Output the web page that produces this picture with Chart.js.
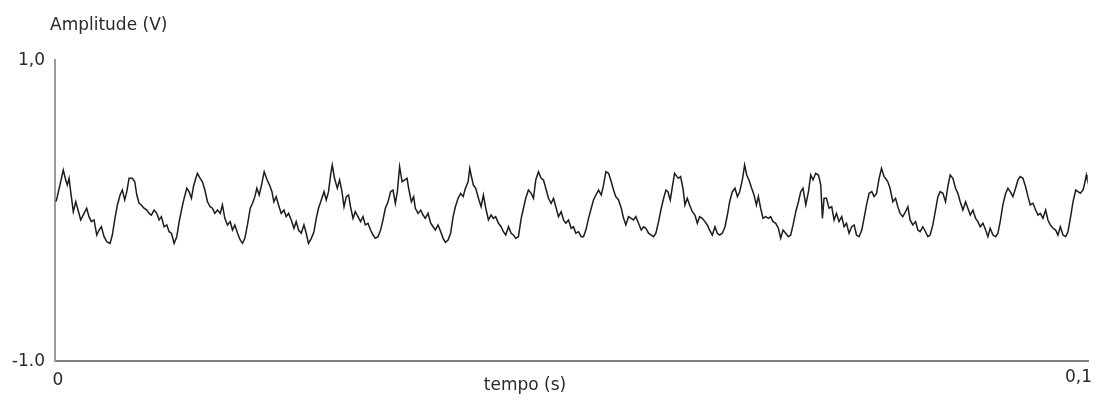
<!DOCTYPE html>
<html lang="pt">
<head>
  <meta charset="UTF-8" />
  <title>Amplitude x tempo</title>
  <script src="https://cdn.jsdelivr.net/npm/chart.js"></script>
  <style>
    body { margin: 0; background: #fff; }
    canvas { display: block; }
  </style>
</head>
<body>
  <canvas id="sinal" width="1097" height="403"></canvas>

  <script>
    // tempo em ms (convertido para s no grafico)
    const tempoMs = [
      0.10, 0.22, 0.55, 0.80, 1.04, 1.19, 1.36, 1.52, 1.77, 2.01,
      2.23, 2.49, 2.81, 3.07, 3.29, 3.52, 3.78, 4.04, 4.26, 4.49,
      4.75, 5.01, 5.33, 5.55, 5.78, 6.04, 6.30, 6.52, 6.75, 6.95,
      7.17, 7.49, 7.72, 7.92, 8.14, 8.36, 8.62, 8.89, 9.11, 9.33,
      9.59, 9.85, 10.08, 10.30, 10.56, 10.82, 11.05, 11.27, 11.53, 11.79,
      12.02, 12.28, 12.50, 12.76, 12.98, 13.21, 13.40, 13.63, 13.79, 14.05,
      14.27, 14.51, 14.76, 15.02, 15.24, 15.47, 15.73, 15.99, 16.21, 16.44,
      16.70, 16.96, 17.18, 17.41, 17.67, 17.93, 18.15, 18.38, 18.63, 18.90,
      19.12, 19.35, 19.54, 19.77, 19.99, 20.25,
      20.54, 20.77, 21.00, 21.19, 21.41, 21.64, 21.90, 22.16, 22.38, 22.61,
      22.87, 23.13, 23.35, 23.58, 23.84, 24.10, 24.32, 24.54, 24.81, 25.07,
      25.29, 25.51, 25.78, 26.04, 26.26, 26.48, 26.68, 26.84, 27.06, 27.33,
      27.55, 27.78, 27.98, 28.20, 28.42, 28.61, 28.85, 29.07, 29.33, 29.58,
      29.82, 30.04, 30.30, 30.55, 30.79, 31.01, 31.27, 31.52, 31.75, 31.98,
      32.24, 32.49, 32.72, 32.95, 33.14, 33.36, 33.60, 33.85, 34.08, 34.23,
      34.50, 34.72, 34.88, 35.15, 35.40, 35.63, 35.85, 36.11, 36.37, 36.60,
      36.82, 37.08, 37.34, 37.57, 37.79, 38.05, 38.30, 38.54, 38.76, 39.02,
      39.27, 39.51, 39.73, 39.99, 40.15,
      40.28, 40.50, 40.73, 40.99, 41.25, 41.47, 41.70, 41.96, 42.22, 42.44,
      42.66, 42.93, 43.19, 43.41, 43.63, 43.90, 44.16, 44.38, 44.60, 44.86,
      45.13, 45.35, 45.57, 45.83, 46.10, 46.32, 46.54, 46.80, 47.06, 47.29,
      47.51, 47.77, 48.03, 48.26, 48.48, 48.74, 49.00, 49.23, 49.45, 49.71,
      49.97, 50.19, 50.42, 50.68, 50.94, 51.16, 51.39, 51.65, 51.91, 52.13,
      52.36, 52.62, 52.88, 53.10, 53.33, 53.59, 53.85, 54.07, 54.29, 54.55,
      54.82, 55.04, 55.26, 55.52, 55.78, 56.01, 56.23, 56.49, 56.75, 56.98,
      57.20, 57.46, 57.72, 57.95, 58.17, 58.43, 58.69, 58.92, 59.14, 59.33,
      59.56, 59.79, 59.98, 60.21,
      60.34, 60.56, 60.79, 60.98, 61.21, 61.43, 61.70, 61.95, 62.18, 62.40,
      62.66, 62.92, 63.15, 63.37, 63.63, 63.89, 64.12, 64.34, 64.60, 64.86,
      65.09, 65.31, 65.57, 65.83, 66.06, 66.28, 66.54, 66.76, 66.96, 67.18,
      67.44, 67.67, 67.90, 68.09, 68.31, 68.54, 68.80, 69.06, 69.28, 69.51,
      69.77, 70.03, 70.25, 70.48, 70.74, 71.00, 71.22, 71.45, 71.71, 71.97,
      72.19, 72.41, 72.68, 72.94, 73.16, 73.38, 73.64, 73.91, 74.13, 74.29,
      74.45, 74.68, 74.93, 75.19, 75.42, 75.65, 75.90, 76.16, 76.39, 76.62,
      76.87, 77.13, 77.36, 77.59, 77.84, 78.10, 78.32, 78.56, 78.81, 79.07,
      79.29, 79.53, 79.78, 80.01, 80.26,
      80.40, 80.62, 80.84, 81.11, 81.37, 81.59, 81.81, 82.07, 82.34, 82.56,
      82.78, 83.04, 83.31, 83.53, 83.75, 84.01, 84.27, 84.50, 84.72, 84.98,
      85.24, 85.47, 85.69, 85.95, 86.21, 86.43, 86.66, 86.92, 87.18, 87.40,
      87.63, 87.89, 88.15, 88.37, 88.60, 88.86, 89.12, 89.34, 89.57, 89.83,
      90.09, 90.31, 90.53, 90.80, 91.06, 91.28, 91.50, 91.76, 92.03, 92.25,
      92.47, 92.73, 92.99, 93.22, 93.44, 93.70, 93.96, 94.19, 94.41, 94.67,
      94.93, 95.16, 95.38, 95.64, 95.90, 96.12, 96.35, 96.61, 96.87, 97.09,
      97.32, 97.58, 97.84, 98.06, 98.29, 98.55, 98.81, 99.03, 99.26, 99.52,
      99.68, 99.84, 99.90
    ];

    // amplitude em V
    const amplitudeV = [
      0.060, 0.092, 0.191, 0.269, 0.203, 0.169, 0.214, 0.125, -0.008, 0.058,
      0.003, -0.063, -0.019, 0.015, -0.041, -0.074, -0.063, -0.163, -0.130, -0.108,
      -0.174, -0.207, -0.218, -0.163, -0.063, 0.037, 0.103, 0.136, 0.070, 0.125,
      0.214, 0.214, 0.191, 0.103, 0.048, 0.037, 0.015, 0.003, -0.019, -0.030,
      0.003, -0.019, -0.063, -0.041, -0.108, -0.096, -0.141, -0.151, -0.218, -0.174,
      -0.074, 0.015, 0.081, 0.148, 0.125, 0.081, 0.158, 0.214, 0.247, 0.214,
      0.191, 0.136, 0.058, 0.025, 0.015, -0.019, 0.003, -0.019, 0.037, -0.052,
      -0.096, -0.074, -0.130, -0.096, -0.151, -0.196, -0.218, -0.185, -0.096, 0.015,
      0.048, 0.092, 0.148, 0.103, 0.169, 0.258,
      0.203, 0.169, 0.125, 0.058, 0.092, 0.037, -0.019, 0.003, -0.041, -0.019,
      -0.063, -0.118, -0.074, -0.130, -0.151, -0.096, -0.151, -0.218, -0.185, -0.141,
      -0.052, 0.015, 0.070, 0.125, 0.070, 0.125, 0.236, 0.302, 0.214, 0.148,
      0.203, 0.125, 0.025, 0.092, 0.103, 0.025, -0.052, -0.008, -0.041, -0.074,
      -0.041, -0.096, -0.085, -0.130, -0.163, -0.185, -0.174, -0.130, -0.063, 0.015,
      0.058, 0.125, 0.136, 0.048, 0.125, 0.291, 0.191, 0.203, 0.214, 0.148,
      0.058, 0.092, 0.015, -0.019, 0.003, -0.030, -0.052, -0.019, -0.085, -0.108,
      -0.130, -0.096, -0.141, -0.185, -0.211, -0.196, -0.151, -0.041, 0.025, 0.081,
      0.114, 0.092, 0.148, 0.191, 0.280,
      0.236, 0.169, 0.148, 0.081, 0.025, 0.103, 0.015, -0.063, -0.030, -0.052,
      -0.041, -0.085, -0.108, -0.141, -0.163, -0.108, -0.151, -0.163, -0.185, -0.174,
      -0.052, 0.015, 0.081, 0.136, 0.114, 0.081, 0.203, 0.258, 0.214, 0.203,
      0.148, 0.081, 0.048, 0.081, 0.025, -0.041, -0.008, -0.063, -0.085, -0.063,
      -0.118, -0.108, -0.151, -0.141, -0.174, -0.174, -0.130, -0.052, 0.015, 0.070,
      0.103, 0.136, 0.103, 0.169, 0.258, 0.247, 0.191, 0.136, 0.092, 0.070,
      0.015, -0.052, -0.096, -0.041, -0.052, -0.063, -0.041, -0.085, -0.130, -0.108,
      -0.118, -0.151, -0.163, -0.174, -0.151, -0.074, 0.015, 0.081, 0.136, 0.125,
      0.070, 0.169, 0.247, 0.225,
      0.214, 0.225, 0.148, 0.037, 0.081, 0.037, -0.008, -0.030, -0.085, -0.041,
      -0.052, -0.074, -0.096, -0.130, -0.163, -0.108, -0.151, -0.163, -0.151, -0.108,
      -0.030, 0.058, 0.125, 0.148, 0.092, 0.125, 0.203, 0.302, 0.236, 0.203,
      0.148, 0.103, 0.037, 0.092, 0.015, -0.052, -0.041, -0.052, -0.041, -0.074,
      -0.085, -0.118, -0.185, -0.130, -0.151, -0.174, -0.163, -0.096, -0.008, 0.058,
      0.125, 0.148, 0.037, 0.125, 0.236, 0.203, 0.247, 0.236, 0.169, -0.052,
      0.081, 0.081, 0.015, 0.025, -0.063, -0.019, -0.074, -0.041, -0.108, -0.085,
      -0.151, -0.108, -0.096, -0.163, -0.174, -0.130, -0.052, 0.037, 0.114, 0.125,
      0.092, 0.114, 0.214, 0.280, 0.225,
      0.214, 0.191, 0.148, 0.058, 0.081, 0.025, -0.019, -0.041, -0.008, 0.025,
      -0.063, -0.096, -0.074, -0.130, -0.141, -0.108, -0.141, -0.174, -0.163, -0.096,
      0.003, 0.092, 0.125, 0.114, 0.058, 0.158, 0.236, 0.214, 0.148, 0.114,
      0.058, 0.003, 0.058, 0.015, -0.030, 0.003, -0.052, -0.074, -0.108, -0.085,
      -0.130, -0.174, -0.118, -0.163, -0.174, -0.151, -0.074, 0.037, 0.114, 0.148,
      0.125, 0.092, 0.148, 0.203, 0.225, 0.214, 0.158, 0.092, 0.037, 0.048,
      0.003, -0.030, -0.019, -0.052, 0.003, -0.063, -0.096, -0.118, -0.130, -0.163,
      -0.108, -0.163, -0.174, -0.141, -0.052, 0.058, 0.136, 0.125, 0.114, 0.136,
      0.181, 0.236, 0.216
    ];

    const yTicks = [-1, 1];
    const yTickLabels = ['-1.0', '1,0'];
    const xTicks = [0, 0.1];
    const xTickLabels = ['0', '0,1'];

    const pontos = tempoMs.map((t, i) => ({ x: t / 1000, y: amplitudeV[i] }));

    // textos dos eixos desenhados a parte (titulo do eixo y fica em cima, na horizontal)
    const textosEixos = {
      id: 'textosEixos',
      afterDraw(chart) {
        const ctx = chart.ctx;
        const xs = chart.scales.x, ys = chart.scales.y;
        ctx.save();
        ctx.fillStyle = '#2a2a2a';
        ctx.font = '17px "DejaVu Sans", Verdana, sans-serif';
        ctx.textBaseline = 'middle';

        ctx.textAlign = 'left';
        ctx.fillText('Amplitude (V)', 50, 26);

        ctx.textAlign = 'right';
        yTicks.forEach((v, i) => ctx.fillText(yTickLabels[i], 45, ys.getPixelForValue(v) + 1));

        ctx.textAlign = 'center';
        ctx.fillText(xTickLabels[0], xs.getPixelForValue(xTicks[0]) + 3, 381);
        ctx.textAlign = 'right';
        ctx.fillText(xTickLabels[1], xs.getPixelForValue(xTicks[1]) + 4, 378);

        ctx.textAlign = 'center';
        ctx.fillText('tempo (s)', 525, 386);
        ctx.restore();
      }
    };

    new Chart(document.getElementById('sinal'), {
      type: 'line',
      data: {
        datasets: [{
          data: pontos,
          borderColor: '#1c1c1c',
          borderWidth: 1.5,
          pointRadius: 0,
          tension: 0,
          fill: false
        }]
      },
      options: {
        responsive: false,
        animation: false,
        layout: { padding: { left: 55, top: 60, right: 9, bottom: 42 } },
        plugins: { legend: { display: false }, tooltip: { enabled: false } },
        scales: {
          x: {
            type: 'linear', min: 0, max: 0.1,
            grid: { display: false },
            ticks: { display: false },
            border: { display: true, color: '#808080', width: 2 },
            afterFit: (s) => { s.height = 0; }
          },
          y: {
            min: -1, max: 1,
            grid: { display: false },
            ticks: { display: false },
            border: { display: true, color: '#9a9a9a', width: 2 },
            afterFit: (s) => { s.width = 0; }
          }
        }
      },
      plugins: [textosEixos]
    });
  </script>
</body>
</html>
